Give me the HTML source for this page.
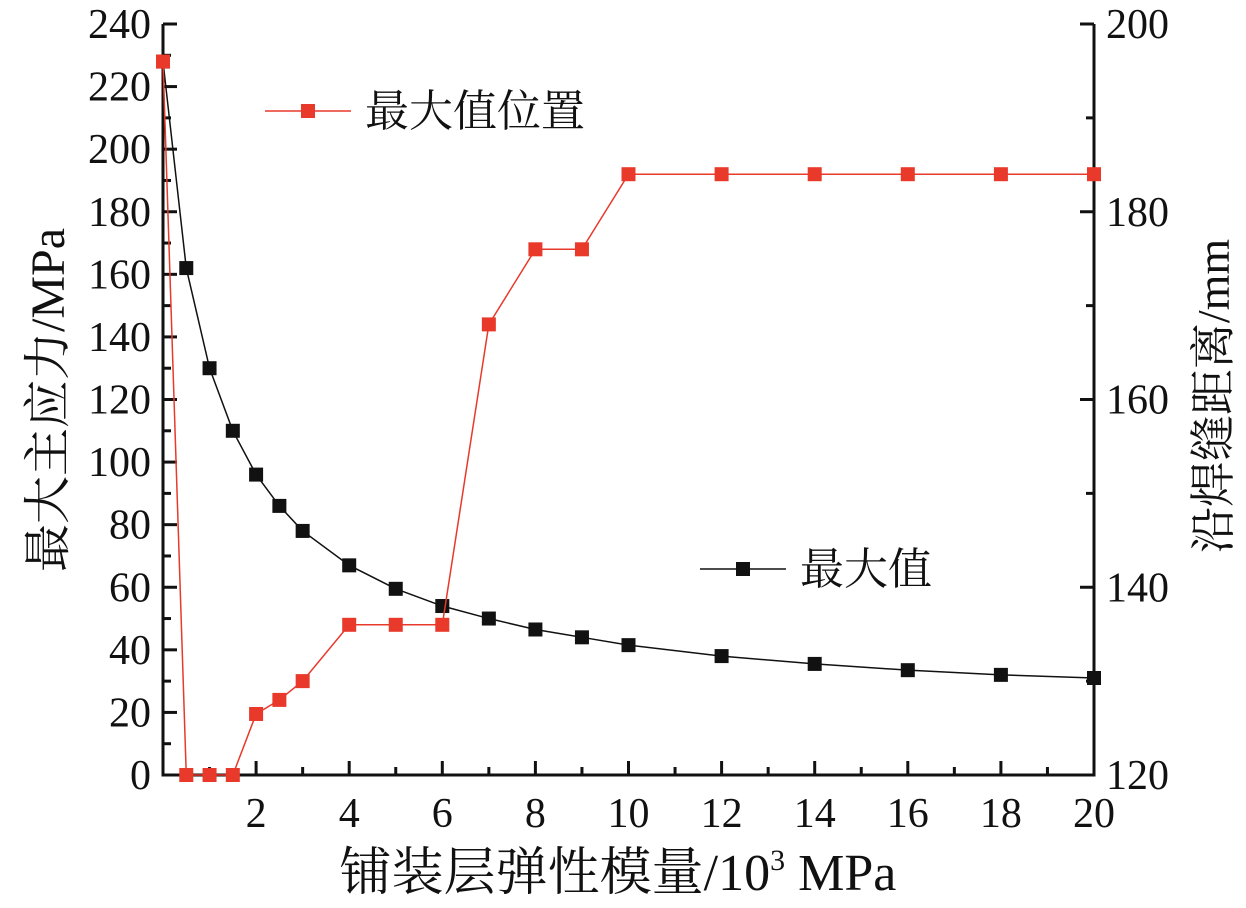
<!DOCTYPE html>
<html><head><meta charset="utf-8"><style>
body{margin:0;background:#fff;}
svg text{font-family:"Liberation Serif","Noto Serif CJK SC",serif;fill:#111;}
</style></head><body>
<svg id="c" width="1246" height="903" viewBox="0 0 1246 903"></svg>
<script>
const xs=[0,0.5,1,1.5,2,2.5,3,4,5,6,7,8,9,10,12,14,16,18,20];
const maxVal=[228,162,130,110,96,86,78,67,59.5,54,50,46.5,44,41.5,38,35.5,33.5,32,31];
const maxPos=[196,120,120,120,126.5,128,130,136,136,136,168,176,176,184,184,184,184,184,184];
const xTicks=[2,4,6,8,10,12,14,16,18,20];
const yTicks=[0,20,40,60,80,100,120,140,160,180,200,220,240];
const y2Ticks=[120,140,160,180,200];
const L=163,R=1094,T=24,B=775;
const X=v=>L+v/20*(R-L), Y=v=>B-v/240*(B-T), Y2=v=>B-(v-120)/80*(B-T);
const svg=document.getElementById('c'),NS='http://www.w3.org/2000/svg';
function mk(t,a,p){const e=document.createElementNS(NS,t);for(const k in a)e.setAttribute(k,a[k]);(p||svg).appendChild(e);return e;}
let ax=mk('path',{d:`M${L} ${T}V${B}H${R}V${T}`,fill:'none',stroke:'#111','stroke-width':3});


for(let v=1;v<=20;v++){const big=xTicks.includes(v);let t=mk('line',{x1:X(v),x2:X(v),y1:B,y2:B-(big?14:8),stroke:'#111','stroke-width':3});

}
xTicks.forEach(v=>{let t=mk('text',{x:X(v),y:B+52,'font-size':42,'text-anchor':'middle'});t.textContent=v;

});
for(let v=0;v<=240;v+=10){const big=v%20==0;let t=mk('line',{x1:L,x2:L+(big?14:8),y1:Y(v),y2:Y(v),stroke:'#111','stroke-width':3});

}
yTicks.forEach(v=>{let t=mk('text',{x:L-12,y:Y(v)+14,'font-size':42,'text-anchor':'end'});t.textContent=v;

});
for(let v=120;v<=200;v+=10){const big=v%20==0;let t=mk('line',{x1:R,x2:R-(big?14:8),y1:Y2(v),y2:Y2(v),stroke:'#111','stroke-width':3});

}
y2Ticks.forEach(v=>{let t=mk('text',{x:R+12,y:Y2(v)+14,'font-size':42});t.textContent=v;

});
function series(vals,yf,col,name){
 let p=mk('polyline',{points:xs.map((x,i)=>X(x)+','+yf(vals[i])).join(' '),fill:'none',stroke:col,'stroke-width':1.5});
 
 
 xs.forEach((x,i)=>{let r=mk('rect',{x:X(x)-7,y:yf(vals[i])-7,width:14,height:14,fill:col});
 
 });
}
series(maxVal,Y,'#111','max-value');
series(maxPos,Y2,'#e8392b','max-position');
function legend(x,y,col,label,name){
 let g=mk('g',{});
 
 
 mk('line',{x1:x,x2:x+86,y1:y,y2:y,stroke:col,'stroke-width':1.5},g);
 mk('rect',{x:x+36,y:y-7,width:14,height:14,fill:col},g);
 let t=mk('text',{x:x+100,y:y+15,'font-size':44},g);t.textContent=label;
}
legend(265,111,'#e8392b','最大值位置','legend-max-position');
legend(700,569,'#111','最大值','legend-max-value');
let xt=mk('text',{x:618,y:890,'font-size':52,'text-anchor':'middle'});
xt.innerHTML='铺装层弹性模量/10<tspan font-size="30" dy="-20">3</tspan><tspan dy="20"> MPa</tspan>';


let yt=mk('text',{x:0,y:0,'font-size':48,'text-anchor':'middle',transform:'translate(64,400) rotate(-90)'});
yt.textContent='最大主应力/MPa';


let y2t=mk('text',{x:0,y:0,'font-size':46,'text-anchor':'middle',transform:'translate(1229,396) rotate(-90)'});
y2t.textContent='沿焊缝距离/mm';


</script>
</body></html>
